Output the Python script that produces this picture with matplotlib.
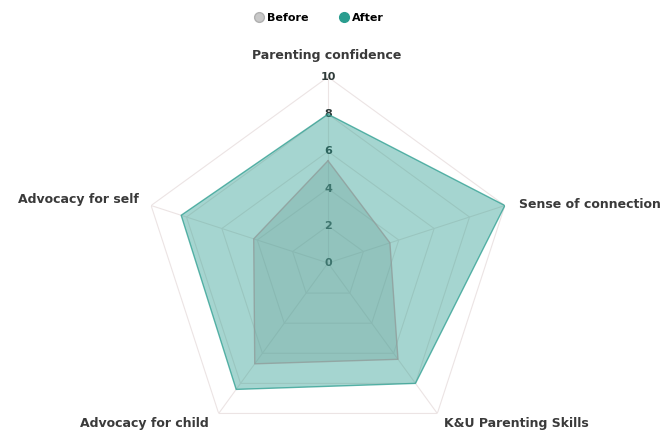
import numpy as np
import matplotlib
matplotlib.use("Agg")
import matplotlib.pyplot as plt
from matplotlib.lines import Line2D

categories = [
    "Parenting confidence",
    "Sense of connection",
    "K&U Parenting Skills",
    "Advocacy for child",
    "Advocacy for self",
]
before = [5.5, 3.5, 6.4, 6.7, 4.2]
after = [8.0, 10.0, 8.0, 8.4, 8.3]
ticks = [0, 2, 4, 6, 8, 10]

after_color = "#2a9d8f"
before_color = "#8f9a98"

plt.rcParams["font.family"] = ["DejaVu Sans"]

fig = plt.figure(figsize=(6.63, 4.32), dpi=100)
# centre (328, 263) px, radius 186 px
ax = fig.add_axes([142 / 663, -17 / 432, 372 / 663, 372 / 432], projection="polar")
ax.set_theta_offset(np.pi / 2)
ax.set_theta_direction(-1)
ax.set_ylim(0, 10)
ax.axis("off")

n = len(categories)
angles = np.linspace(0, 2 * np.pi, n, endpoint=False)
closed = np.append(angles, angles[0])

# pentagon grid and spokes
for t in ticks[1:]:
    ax.plot(closed, [t] * (n + 1), color="#ece4e4", lw=0.8, zorder=1)
for a in angles:
    ax.plot([a, a], [0, 10], color="#ece4e4", lw=0.8, zorder=1)

# tick labels along the top spoke
for t in ticks:
    ax.text(0, t, str(t), ha="center", va="center", fontsize=8,
            color="#2f3b3a", fontweight="bold", zorder=2)

for vals, col, a_fill in [(before, before_color, 0.3), (after, after_color, 0.42)]:
    v = np.append(vals, vals[0])
    ax.fill(closed, v, color=col, alpha=a_fill, zorder=3, lw=0)
    ax.plot(closed, v, color=col, lw=1.0, alpha=0.75, zorder=4)

# category labels
lab = dict(fontsize=9, color="#3a3a3a", fontweight="bold")
fig.text(327 / 663, 1 - 55 / 432, categories[0], ha="center", va="center", **lab)
fig.text(519 / 663, 1 - 204 / 432, categories[1], ha="left", va="center", **lab)
fig.text(444 / 663, 1 - 423 / 432, categories[2], ha="left", va="center", **lab)
fig.text(209 / 663, 1 - 423 / 432, categories[3], ha="right", va="center", **lab)
fig.text(139 / 663, 1 - 199 / 432, categories[4], ha="right", va="center", **lab)

handles = [
    Line2D([], [], marker="o", ls="", markersize=7, markerfacecolor="#c8c8c8",
           markeredgecolor="#b0b0b0", label="Before"),
    Line2D([], [], marker="o", ls="", markersize=7, markerfacecolor=after_color,
           markeredgecolor=after_color, label="After"),
]
fig.legend(handles=handles, loc="center", bbox_to_anchor=(318 / 663, 1 - 18 / 432),
           ncol=2, frameon=False, handletextpad=0.1, columnspacing=2.6,
           handlelength=1.2, prop={"weight": "bold", "size": 8})

fig.savefig("out.png", dpi=100)
